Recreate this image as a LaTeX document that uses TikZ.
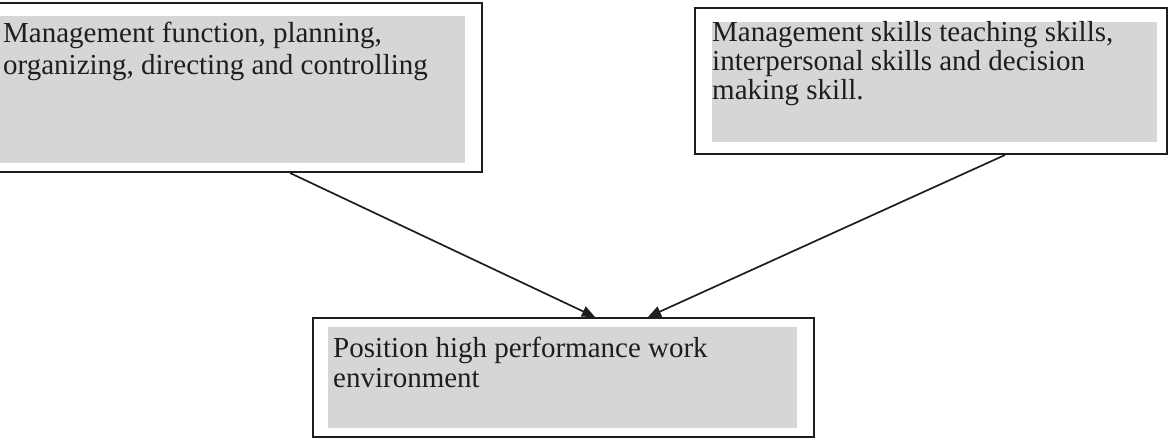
\documentclass[tikz,border=0pt]{standalone}
\usepackage{fontspec}
\setmainfont{Liberation Serif}
\usetikzlibrary{arrows.meta}
\definecolor{boxgrey}{RGB}{214,214,214}
\definecolor{ink}{RGB}{30,30,30}
\begin{document}
\begin{tikzpicture}[x=1pt,y=-1pt,
  box/.style={draw=ink,line width=2pt,rectangle,inner sep=0pt},
  txt/.style={anchor=base west,inner sep=0pt,text=ink,font=\fontsize{29}{30}\selectfont},
  arr/.style={draw=ink,line width=1.7pt,-{Triangle[length=13pt,width=11pt]}}]
\useasboundingbox[fill=white] (0,0) rectangle (1173,446);
% grey fills
\fill[boxgrey] (0,16) rectangle (465,163);
\fill[boxgrey] (712,22) rectangle (1157,142);
\fill[boxgrey] (328,327) rectangle (797,428);
% boxes
\node[box,minimum width=485pt,minimum height=169pt] (fn) at (239,87.5) {};
\node[box,minimum width=472pt,minimum height=146pt] (sk) at (931,81) {};
\node[box,minimum width=501pt,minimum height=119pt] (pos) at (563.5,377.5) {};
% texts
\node[txt] (fn1) at (3,43) {Management function, planning,};
\node[txt] (fn2) at (3,75) {organizing, directing and controlling};
\node[txt] (sk1) at (712,42) {Management skills teaching skills,};
\node[txt] (sk2) at (712,71) {interpersonal skills and decision};
\node[txt] (sk3) at (712,100) {making skill.};
\node[txt] (pos1) at (333,358) {Position high performance work};
\node[txt] (pos2) at (333,388) {environment};
% connectors
\draw[arr] ([xshift=51pt]fn.south) -- ([xshift=31.5pt]pos.north);
\draw[arr] ([xshift=74pt]sk.south) -- ([xshift=84.5pt]pos.north);
\end{tikzpicture}
\end{document}
